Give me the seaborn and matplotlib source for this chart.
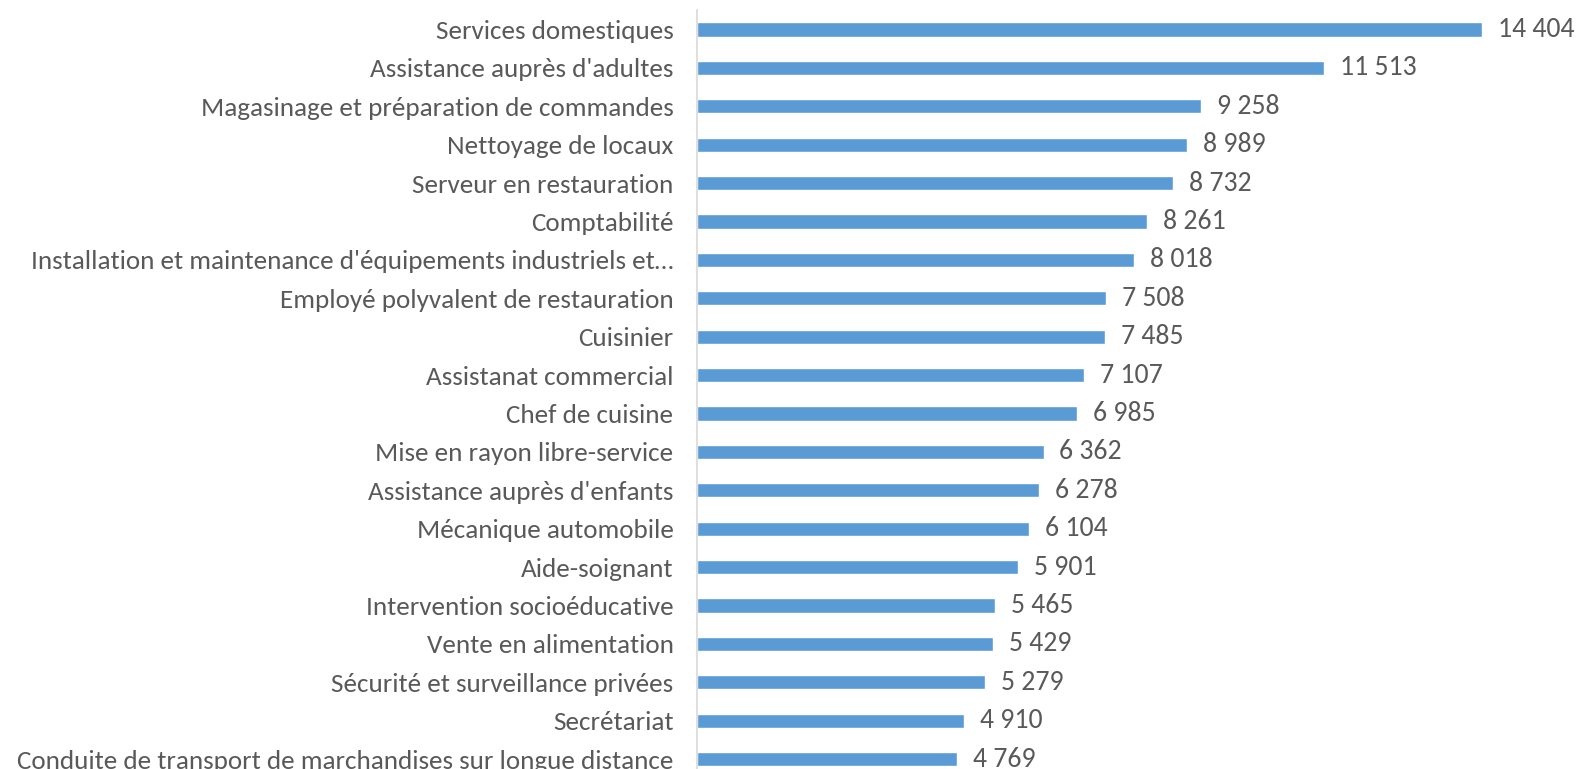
import matplotlib
matplotlib.use("Agg")
import matplotlib.pyplot as plt
import seaborn as sns
import pandas as pd

# Job families and number of hiring projects, top to bottom
categories = [
    "Services domestiques",
    "Assistance auprès d'adultes",
    "Magasinage et préparation de commandes",
    "Nettoyage de locaux",
    "Serveur en restauration",
    "Comptabilité",
    "Installation et maintenance d'équipements industriels et…",
    "Employé polyvalent de restauration",
    "Cuisinier",
    "Assistanat commercial",
    "Chef de cuisine",
    "Mise en rayon libre-service",
    "Assistance auprès d'enfants",
    "Mécanique automobile",
    "Aide-soignant",
    "Intervention socioéducative",
    "Vente en alimentation",
    "Sécurité et surveillance privées",
    "Secrétariat",
    "Conduite de transport de marchandises sur longue distance",
]
values = [14404, 11513, 9258, 8989, 8732, 8261, 8018, 7508, 7485, 7107,
          6985, 6362, 6278, 6104, 5901, 5465, 5429, 5279, 4910, 4769]

TEXT = "#595959"
BAR = "#5B9BD5"

sns.set_theme(style="white")
plt.rcParams["font.family"] = ["Carlito", "Liberation Sans Narrow", "Open Sans", "DejaVu Sans"]

W, H = 1577, 769
fig = plt.figure(figsize=(W / 100, H / 100), dpi=100)
top_px, step = 10.3, 38.4
bottom_px = top_px + step * len(categories)
left_px, right_px = 697, 1514
ax = fig.add_axes([left_px / W, 1 - bottom_px / H,
                   (right_px - left_px) / W, (bottom_px - top_px) / H])

df = pd.DataFrame({"metier": categories, "effectif": values})
sns.barplot(data=df, x="effectif", y="metier", color=BAR, saturation=1,
            width=0.37, ax=ax)

ax.set_xlim(0, 15000)
ax.set_ylim(len(categories) - 0.5, -0.5)
ax.set_xticks([])
ax.set_xlabel("")
ax.set_ylabel("")
for side in ("top", "right", "bottom"):
    ax.spines[side].set_visible(False)
ax.spines["left"].set_color("#D9D9D9")
ax.spines["left"].set_linewidth(1.2)
ax.tick_params(axis="y", length=0, pad=17, labelsize=19.5, labelcolor=TEXT)

for i, v in enumerate(values):
    label = f"{v:,}".replace(",", " ")
    ax.annotate(label, xy=(v, i), xytext=(11.5, 0), textcoords="offset points",
                va="center", ha="left", fontsize=20, color=TEXT)

fig.savefig("out.png", dpi=100)
